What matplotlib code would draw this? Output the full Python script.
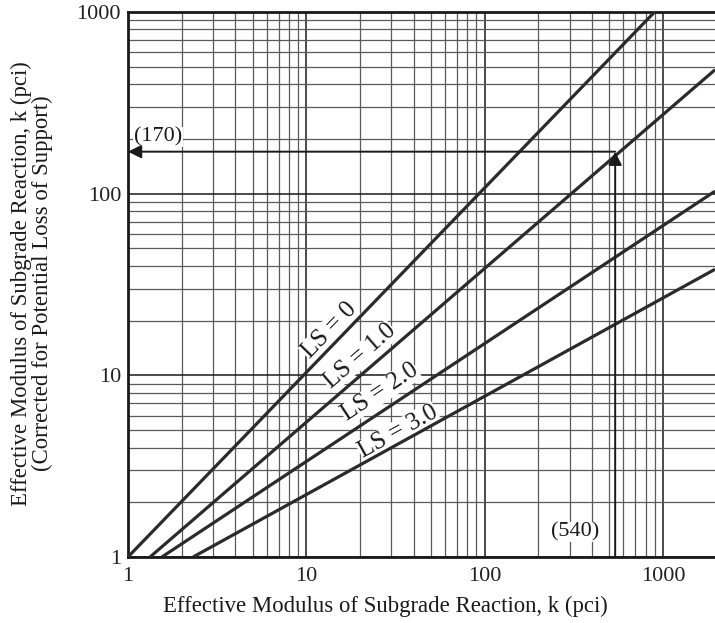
import numpy as np
import matplotlib
matplotlib.use('Agg')
import matplotlib.pyplot as plt
from matplotlib.ticker import FixedLocator, LogLocator, NullFormatter

plt.rcParams['font.family'] = ['Liberation Serif', 'DejaVu Serif']

# data
k_ticks = [1, 10, 100, 1000]
ls_names = ['LS = 0', 'LS = 1.0', 'LS = 2.0', 'LS = 3.0']
ls_x = [[1, 900], [1.33, 1960], [1.55, 1960], [2.32, 1960]]
ls_y = [[1, 1000], [1, 480], [1, 103], [1, 38.3]]
lbl_x = [13.4, 20.0, 25.9, 32.7]
lbl_y = [17.6, 12.7, 8.05, 4.9]
k_in = 540
k_out = 170

fig = plt.figure(figsize=(7.15, 6.23), dpi=100)
ax = fig.add_axes([0.179, 0.106, 0.821, 0.875])
ax.set_xscale('log')
ax.set_yscale('log')
ax.set_xlim(1, 1960)
ax.set_ylim(1, 1000)

for a in (ax.xaxis, ax.yaxis):
    a.set_major_locator(FixedLocator(k_ticks))
    a.set_minor_locator(LogLocator(base=10, subs=np.arange(2, 10)))
    a.set_minor_formatter(NullFormatter())
ax.set_xticklabels([str(v) for v in k_ticks])
ax.set_yticklabels([str(v) for v in k_ticks])
ax.tick_params(which='both', length=0, labelsize=16, colors='#222222')
ax.tick_params(axis='x', pad=7)
ax.tick_params(axis='y', pad=5)

ax.grid(which='major', color='#1a1a1a', lw=1.1)
ax.grid(which='minor', color='#5a5a5a', lw=0.9)
ax.set_axisbelow(True)

for s in ['left', 'bottom', 'top']:
    ax.spines[s].set_linewidth(2.0)
    ax.spines[s].set_color('#1a1a1a')
ax.spines['right'].set_visible(False)

for i in range(4):
    ax.plot(ls_x[i], ls_y[i], color='#2b2b2b', lw=2.3, solid_capstyle='butt', zorder=5)

# label angles follow the lines on screen
for i in range(4):
    p1 = ax.transData.transform((ls_x[i][0], ls_y[i][0]))
    p2 = ax.transData.transform((ls_x[i][1], ls_y[i][1]))
    ang = np.degrees(np.arctan2(p2[1] - p1[1], p2[0] - p1[0]))
    ax.text(lbl_x[i], lbl_y[i], ls_names[i], rotation=ang, rotation_mode='anchor',
            ha='center', va='center', fontsize=18, color='#1a1a1a', zorder=4,
            bbox=dict(facecolor='white', edgecolor='none', pad=0.2))

# worked example
ax.annotate('', xy=(k_in, k_out), xytext=(k_in, 1),
            arrowprops=dict(arrowstyle='-|>', color='#1a1a1a', lw=1.4,
                            mutation_scale=20, shrinkA=0, shrinkB=0), zorder=6)
ax.annotate('', xy=(1, k_out), xytext=(k_in, k_out),
            arrowprops=dict(arrowstyle='-|>', color='#1a1a1a', lw=1.4,
                            mutation_scale=20, shrinkA=0, shrinkB=0), zorder=6)
ax.text(1.47, 205, '(170)', ha='center', va='center', fontsize=16, color='#1a1a1a',
        zorder=4, bbox=dict(facecolor='white', edgecolor='none', pad=0.5))
ax.text(321, 1.37, '(540)', ha='center', va='center', fontsize=16, color='#1a1a1a',
        zorder=4, bbox=dict(facecolor='white', edgecolor='none', pad=0.5))

fig.text(0.539, 0.026, 'Effective Modulus of Subgrade Reaction, k (pci)',
         ha='center', va='center', fontsize=16.4, color='#1a1a1a')
fig.text(0.045, 0.545, 'Effective Modulus of Subgrade Reaction, k (pci)\n(Corrected for Potential Loss of Support)',
         ha='center', va='center', rotation=90, multialignment='center',
         linespacing=1.0, fontsize=16.4, color='#1a1a1a')

fig.savefig('out.png', dpi=100)
